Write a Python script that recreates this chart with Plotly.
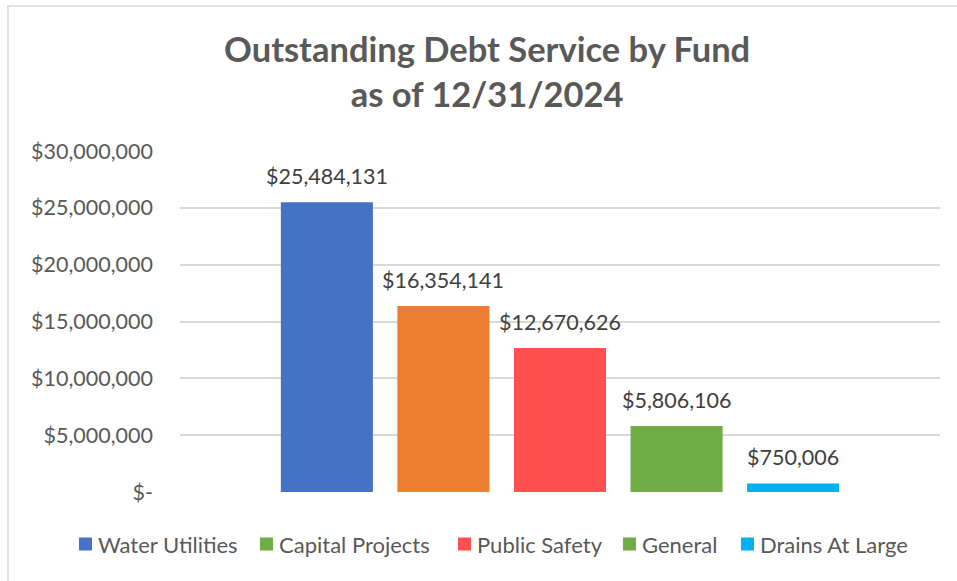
import plotly.graph_objects as go

# Outstanding debt service per fund as of 12/31/2024
funds = ["Water Utilities", "Capital Projects", "Public Safety", "General", "Drains At Large"]
debt = [25484131, 16354141, 12670626, 5806106, 750006]
bar_colors = ["#4472C4", "#ED7D31", "#FF5050", "#70AD47", "#00B0F0"]
legend_colors = ["#4472C4", "#70AD47", "#FF5050", "#70AD47", "#00B0F0"]

tick_vals = [0, 5000000, 10000000, 15000000, 20000000, 25000000, 30000000]
tick_text = ["$-", "$5,000,000", "$10,000,000", "$15,000,000",
             "$20,000,000", "$25,000,000", "$30,000,000"]

FONT = "Lato"
W, H = 957, 581
L, R, T, B = 180, 17, 151, 89
plot_w = W - L - R
plot_h = H - T - B

# legend row layout (pixels): left edge of each swatch, row centre, swatch size
LEG_X = [79, 260, 458, 623, 741]
LEG_Y = 544
SW = 13


def px_x(p):
    return (p - L) / plot_w


def px_y(p):
    return (H - B - p) / plot_h


fig = go.Figure()

fig.add_trace(go.Bar(
    x=funds, y=debt,
    marker=dict(color=bar_colors, line=dict(width=0)),
    showlegend=False, hoverinfo="skip",
))

# value labels above bars
for name, val in zip(funds, debt):
    fig.add_annotation(
        x=name, y=val, text=f"${val:,.0f}", showarrow=False,
        yanchor="middle", yshift=26,
        font=dict(family=FONT, size=21.5, color="#404040"),
    )

# legend row: swatch + label per fund
for name, col, lx in zip(funds, legend_colors, LEG_X):
    fig.add_shape(
        type="rect", xref="paper", yref="paper",
        x0=px_x(lx), x1=px_x(lx + SW),
        y0=px_y(LEG_Y + SW / 2), y1=px_y(LEG_Y - SW / 2),
        line=dict(width=0), fillcolor=col,
    )
    fig.add_annotation(
        xref="paper", yref="paper", x=px_x(lx + 17), y=px_y(LEG_Y),
        xanchor="left", yanchor="middle", text=name, showarrow=False,
        font=dict(family=FONT, size=22, color="#595959"),
    )

# outer chart border
fig.add_shape(
    type="rect", xref="paper", yref="paper",
    x0=px_x(8), x1=px_x(962), y0=px_y(590), y1=px_y(6),
    line=dict(color="#D9D9D9", width=1.5), fillcolor="rgba(0,0,0,0)",
    layer="below",
)

fig.update_layout(
    width=W, height=H,
    margin=dict(l=L, r=R, t=T, b=B, autoexpand=False),
    paper_bgcolor="white", plot_bgcolor="white",
    bargap=0.21,
    showlegend=False,
    title=dict(
        text="Outstanding Debt Service by Fund<br>as of 12/31/2024",
        x=0.509, xanchor="center", xref="container",
        y=1 - 62 / H, yanchor="top", yref="container",
        font=dict(family=FONT, size=34.5, color="#595959", weight="bold"),
    ),
    xaxis=dict(
        range=[-1.26, 5.26], showticklabels=False, showgrid=False,
        zeroline=False, showline=False, ticks="",
    ),
    yaxis=dict(
        range=[0, 30000000], tickvals=tick_vals, ticktext=tick_text,
        showgrid=True, gridcolor="#D9D9D9", gridwidth=1.5,
        zeroline=False, showline=False, ticks="",
        ticklabelstandoff=26,
        tickfont=dict(family=FONT, size=21.5, color="#595959"),
    ),
)

fig.write_html("out.html")
